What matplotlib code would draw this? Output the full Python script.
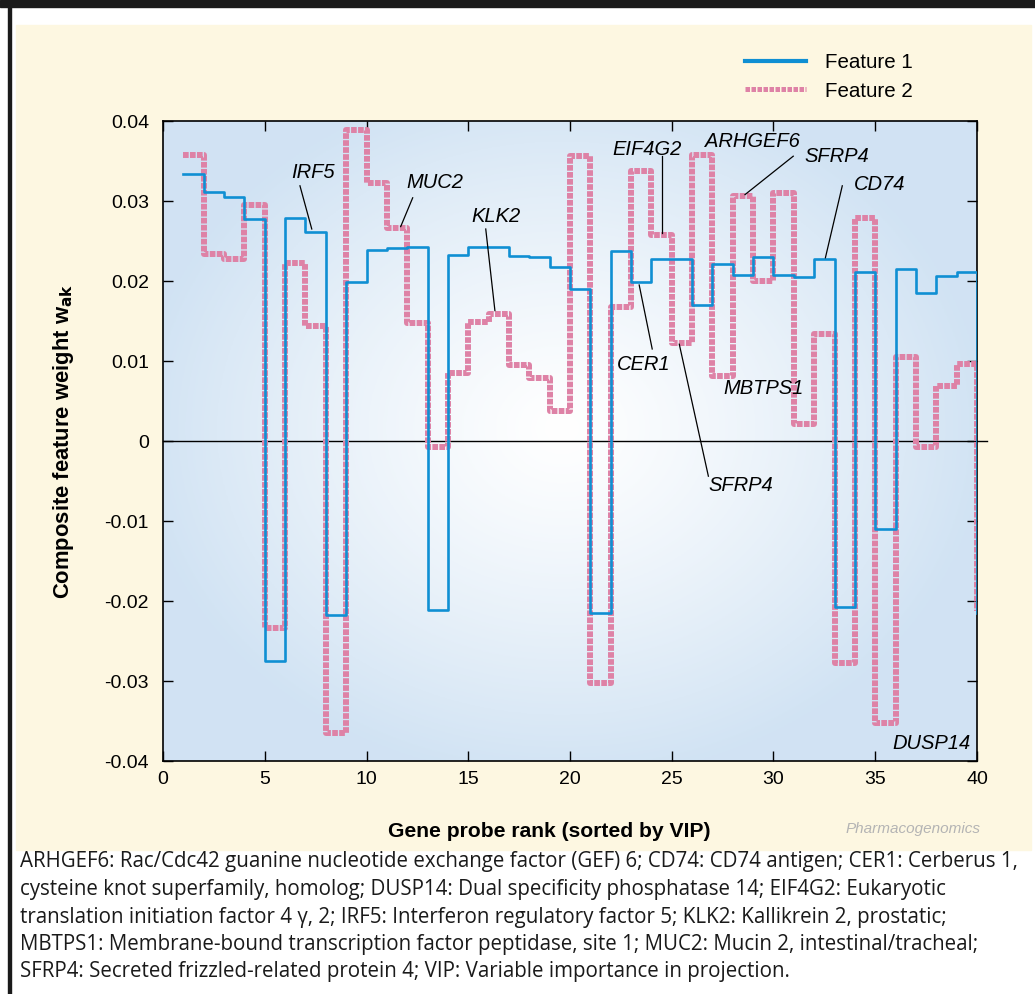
import numpy as np
import matplotlib
matplotlib.use("Agg")
import matplotlib.pyplot as plt
from matplotlib.patches import Rectangle
from matplotlib.lines import Line2D

# gene probe rank (sorted by VIP)
rank = np.arange(1, 41)
feature1 = [0.0334, 0.0311, 0.0305, 0.0277, -0.0275, 0.0279, 0.0261, -0.0217,
            0.0199, 0.0239, 0.0241, 0.0243, -0.0211, 0.0232, 0.0242, 0.0242,
            0.0231, 0.0230, 0.0218, 0.0190, -0.0215, 0.0237, 0.0199, 0.0228,
            0.0228, 0.0170, 0.0221, 0.0208, 0.0230, 0.0207, 0.0205, 0.0228,
            -0.0208, 0.0211, -0.0110, 0.0215, 0.0185, 0.0206, 0.0211, -0.0215]
feature2 = [0.0358, 0.0234, 0.0227, 0.0295, -0.0234, 0.0223, 0.0144, -0.0365,
            0.0389, 0.0323, 0.0266, 0.0148, -0.0008, 0.0085, 0.0149, 0.0159,
            0.0095, 0.0079, 0.0038, 0.0356, -0.0303, 0.0167, 0.0338, 0.0258,
            0.0123, 0.0358, 0.0081, 0.0306, 0.0200, 0.0310, 0.0021, 0.0134,
            -0.0277, 0.0279, -0.0352, 0.0105, -0.0008, 0.0069, 0.0096, -0.0213]

# gene labels: (text, text x, text y, leader line start, leader line end)
labels = [
    ("IRF5", 7.37, 0.0336, (6.73, 0.0319), (7.31, 0.0265)),
    ("MUC2", 13.37, 0.0323, (12.27, 0.0304), (11.68, 0.0268)),
    ("KLK2", 16.36, 0.0281, (15.86, 0.0265), (16.31, 0.0163)),
    ("EIF4G2", 23.81, 0.0364, (24.5, 0.0356), (24.5, 0.0260)),
    ("ARHGEF6", 28.95, 0.0374, None, None),
    ("SFRP4", 33.12, 0.0356, (30.97, 0.0356), (28.6, 0.0308)),
    ("CD74", 35.23, 0.0321, (33.38, 0.0319), (32.55, 0.0229)),
    ("CER1", 23.64, 0.0096, (24.04, 0.0115), (23.4, 0.0195)),
    ("MBTPS1", 29.5, 0.0065, None, None),
    ("SFRP4", 28.4, -0.0056, (26.8, -0.0044), (25.37, 0.0121)),
    ("DUSP14", 37.74, -0.0378, None, None),
]

xticks = [0, 5, 10, 15, 20, 25, 30, 35, 40]
yticks = [-0.04, -0.03, -0.02, -0.01, 0, 0.01, 0.02, 0.03, 0.04]
ytick_labels = ["-0.04", "-0.03", "-0.02", "-0.01", "0", "0.01", "0.02", "0.03", "0.04"]

caption = [
    "ARHGEF6: Rac/Cdc42 guanine nucleotide exchange factor (GEF) 6; CD74: CD74 antigen; CER1: Cerberus 1,",
    "cysteine knot superfamily, homolog; DUSP14: Dual specificity phosphatase 14; EIF4G2: Eukaryotic",
    "translation initiation factor 4 \u03b3, 2; IRF5: Interferon regulatory factor 5; KLK2: Kallikrein 2, prostatic;",
    "MBTPS1: Membrane-bound transcription factor peptidase, site 1; MUC2: Mucin 2, intestinal/tracheal;",
    "SFRP4: Secreted frizzled-related protein 4; VIP: Variable importance in projection.",
]

BLUE = "#0f8fd3"
PINK = "#de82a6"
BEIGE = "#fdf7e1"

plt.rcParams["font.family"] = ["Liberation Sans", "DejaVu Sans"]

W, H = 1035, 994
fig = plt.figure(figsize=(W / 100, H / 100), dpi=100, facecolor="white")


def fx(px):
    return px / W


def fy(py):
    return 1 - py / H


# frame decorations
fig.patches.append(Rectangle((0, fy(7)), 1, 7 / H, transform=fig.transFigure,
                             color="#1a1a1a", zorder=-2))
fig.patches.append(Rectangle((fx(8), 0), 3 / W, fy(7), transform=fig.transFigure,
                             color="#1a1a1a", zorder=-2))
fig.patches.append(Rectangle((fx(16), fy(850)), fx(1031 - 16), (850 - 25) / H,
                             transform=fig.transFigure, color=BEIGE, zorder=-2))

ax = fig.add_axes([fx(163), fy(761), fx(977 - 163), (761 - 121) / H])
ax.set_zorder(2)

# soft blue-to-white background gradient
gx, gy = np.meshgrid(np.linspace(0, 1, 300), np.linspace(0, 1, 300))
r = np.sqrt(((gx - 0.49) / 0.52) ** 2 + ((gy - 0.52) / 0.55) ** 2)
t = np.clip(r, 0, 1) ** 1.2
edge = np.array([0.82, 0.89, 0.955])
img = (1 - t)[..., None] * np.ones(3) + t[..., None] * edge
ax.imshow(img, extent=[0, 40, -0.04, 0.04], origin="lower", aspect="auto", zorder=0)

ax.plot([0, 40.5], [0, 0], color="black", lw=1, clip_on=False, zorder=1)

p2, = ax.step(rank, feature2, where="post", color=PINK, lw=4.3, zorder=2,
              solid_joinstyle="miter")
p2.set_dashes((0.95, 0.22))
p2.set_dash_capstyle("butt")
p1, = ax.step(rank, feature1, where="post", color=BLUE, lw=1.9, zorder=3)

for txt, tx, ty, p0, p1_ in labels:
    ax.text(tx, ty, txt, style="italic", fontsize=14.5, ha="center", va="center", zorder=5)
    if p0 is not None:
        ax.plot([p0[0], p1_[0]], [p0[1], p1_[1]], color="black", lw=0.9, zorder=4)

ax.set_xlim(0, 40)
ax.set_ylim(-0.04, 0.04)
ax.set_xticks(xticks)
ax.set_yticks(yticks)
ax.set_yticklabels(ytick_labels)
ax.tick_params(direction="in", length=7, width=1, top=True, right=True,
               labelsize=14, colors="black")
ax.tick_params(axis="x", pad=7)
ax.tick_params(axis="y", pad=10)
for s in ax.spines.values():
    s.set_linewidth(1.2)

ax.set_ylabel(r"Composite feature weight w$_{\mathbf{ak}}$", fontsize=15.8, fontweight="bold")
ax.yaxis.set_label_coords(-0.107, 0.5)
ax.set_xlabel("Gene probe rank (sorted by VIP)", fontsize=15.2, fontweight="bold")
ax.xaxis.set_label_coords(0.475, -0.096)

# legend with thicker sample lines
h1 = Line2D([], [], color=BLUE, lw=3.0)
h2 = Line2D([], [], color=PINK, lw=3.6, dashes=(0.9, 0.3), dash_capstyle="butt")
ax.legend(handles=[h1, h2], labels=["Feature 1", "Feature 2"], loc="upper left",
          frameon=False, bbox_to_anchor=(fx(745), fy(53)),
          bbox_transform=fig.transFigure, borderpad=0, borderaxespad=0,
          fontsize=14.8, handlelength=2.95, handletextpad=0.95, labelspacing=0.47)

fig.text(fx(913), fy(829), "Pharmacogenomics", style="italic", color="#b4b4b4",
         fontsize=11, ha="center", va="center")

for i, line in enumerate(caption):
    fig.text(fx(20), fy(862 + 27.5 * i), line, fontsize=14.8, ha="left", va="center",
             family=["Open Sans", "DejaVu Sans"], color="#1a1a1a")

fig.savefig("out.png", dpi=100, facecolor="white")
